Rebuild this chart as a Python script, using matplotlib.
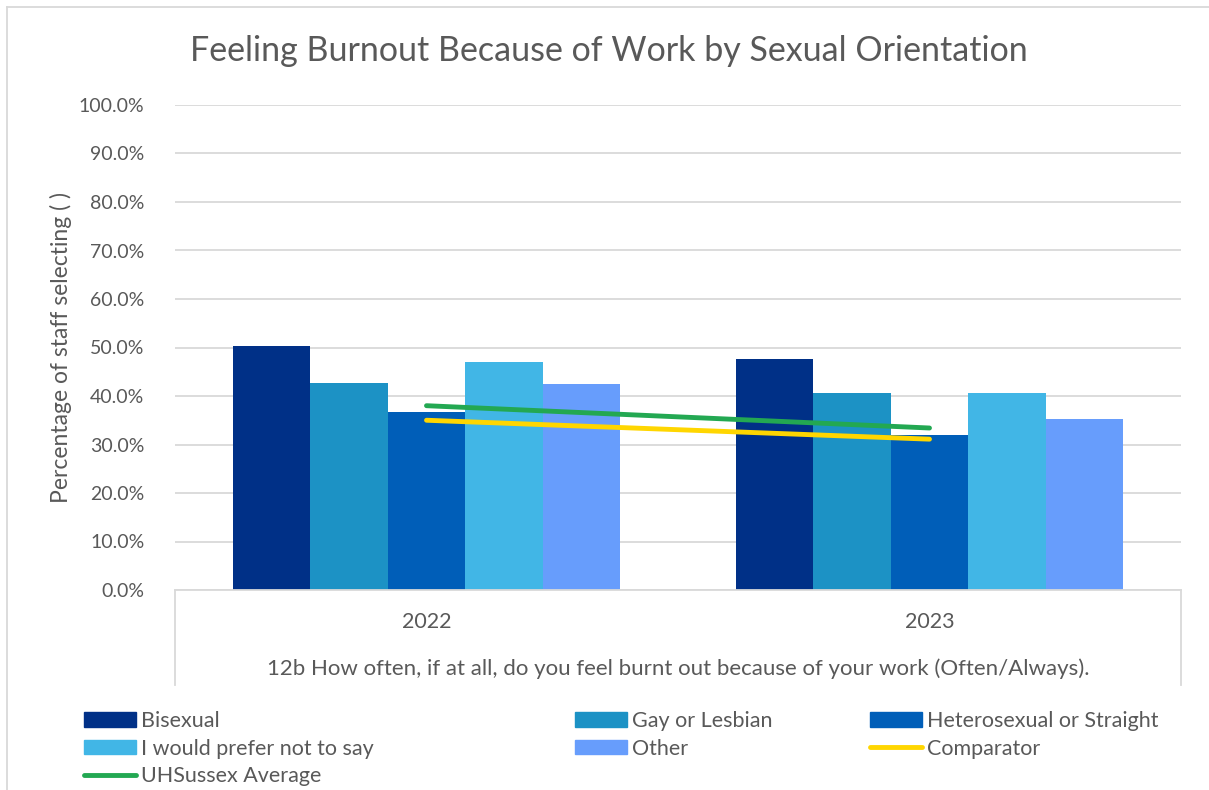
import matplotlib
matplotlib.use("Agg")
import matplotlib.pyplot as plt
import numpy as np
from matplotlib.lines import Line2D
from matplotlib.patches import Patch
from matplotlib.ticker import PercentFormatter

plt.rcParams['font.family'] = ['Lato', 'DejaVu Sans']

years = ['2022', '2023']
groups = ['Bisexual', 'Gay or Lesbian', 'Heterosexual or Straight',
          'I would prefer not to say', 'Other']
bisexual = [50.3, 47.7]
gay_lesbian = [42.6, 40.6]
heterosexual = [36.8, 31.9]
prefer_not = [47.0, 40.6]
other = [42.4, 35.3]
comparator = [35.0, 31.1]
uhsussex_avg = [38.0, 33.4]

colors = ['#003087', '#1c92c5', '#005eb8', '#41b6e6', '#679dfc']
grey = '#595959'

fig = plt.figure(figsize=(12.09, 7.90), dpi=100)
ax = fig.add_axes([175 / 1209, 1 - 590 / 790, 1006 / 1209, 485 / 790])

x = np.arange(len(years))
width = 0.77 / 5
series = [bisexual, gay_lesbian, heterosexual, prefer_not, other]
for i, (vals, col) in enumerate(zip(series, colors)):
    ax.bar(x + (i - 2) * width, vals, width, color=col, zorder=2)

ax.plot(x, comparator, color='#ffd600', lw=3.5, solid_capstyle='round', zorder=3)
ax.plot(x, uhsussex_avg, color='#23a852', lw=3.5, solid_capstyle='round', zorder=3)

ax.set_xlim(-0.5, 1.5)
ax.set_ylim(0, 100)
ax.set_yticks(np.arange(0, 101, 10))
ax.yaxis.set_major_formatter(PercentFormatter(decimals=1))
ax.grid(axis='y', color='#d9d9d9', lw=1.3, zorder=0)
ax.tick_params(axis='y', length=0, labelsize=14, labelcolor=grey, pad=22)
ax.set_xticks([])
for s in ['top', 'right', 'left']:
    ax.spines[s].set_visible(False)
ax.spines['bottom'].set_color('#d9d9d9')
ax.spines['bottom'].set_linewidth(1.3)

ax.set_ylabel('Percentage of staff selecting ( )', fontsize=16.5, color=grey, labelpad=5)

# multi-level category axis box
for xv in [175, 1181]:
    fig.add_artist(Line2D([xv / 1209] * 2, [1 - 590 / 790, 1 - 685 / 790],
                          color='#d9d9d9', lw=1.3))
for xi, yr in zip(x, years):
    ax.text(xi, -6.6, yr, ha='center', va='center', fontsize=15.5, color=grey)
fig.text((175 + 1181) / 2 / 1209, 1 - 669 / 790,
         '12b How often, if at all, do you feel burnt out because of your work (Often/Always).',
         ha='center', va='center', fontsize=16, color=grey)

fig.text(609 / 1209, 1 - 51 / 790, 'Feeling Burnout Because of Work by Sexual Orientation',
         ha='center', va='center', fontsize=24.5, color=grey)

# chart frame edges
fig.add_artist(Line2D([7 / 1209, 7 / 1209], [0, 1 - 7 / 790], color='#d9d9d9', lw=1.3))
fig.add_artist(Line2D([7 / 1209, 1], [1 - 7 / 790] * 2, color='#d9d9d9', lw=1.3))

# legend, laid out row by row in three columns
bar_h = [Patch(color=c) for c in colors]
line_h = {'Comparator': Line2D([], [], color='#ffd600', lw=3.5, solid_capstyle='round'),
          'UHSussex Average': Line2D([], [], color='#23a852', lw=3.5, solid_capstyle='round')}
cols = [
    (84, [(bar_h[0], groups[0]), (bar_h[3], groups[3]), (line_h['UHSussex Average'], 'UHSussex Average')]),
    (575, [(bar_h[1], groups[1]), (bar_h[4], groups[4])]),
    (870, [(bar_h[2], groups[2]), (line_h['Comparator'], 'Comparator')]),
]
for xpos, items in cols:
    leg = fig.legend([h for h, _ in items], [l for _, l in items],
                     loc='upper left', bbox_to_anchor=(xpos / 1209, 1 - 711 / 790),
                     frameon=False, fontsize=15.5, labelcolor=grey,
                     handlelength=2.4, handleheight=0.65, handletextpad=0.25,
                     labelspacing=0.36, borderpad=0, borderaxespad=0)

fig.savefig('out.png', dpi=100)
